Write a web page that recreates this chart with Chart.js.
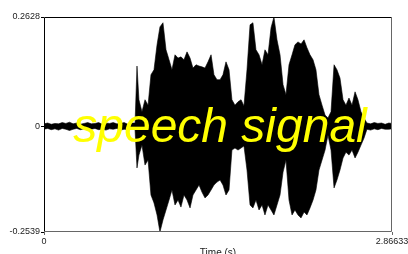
<!DOCTYPE html>
<html lang="en">
<head>
<meta charset="UTF-8">
<title>speech signal</title>
<script src="https://cdn.jsdelivr.net/npm/chart.js"></script>
<style>
  html, body { margin: 0; padding: 0; background: #fff; }
  #wrap { width: 408px; height: 254px; position: relative; }
</style>
</head>
<body>
<div id="wrap"><canvas id="wave"></canvas></div>
<script>
// envelope of the waveform (seconds / amplitude)
const time = [
  0, 0.03, 0.06, 0.09, 0.12, 0.15, 0.18, 0.21, 0.24, 0.27, 0.30, 0.33, 0.36, 0.39, 0.42, 0.45, 0.48, 0.51, 0.54, 0.57, 0.60, 0.63, 0.66, 0.69, 0.72,
  0.750, 0.766, 0.782, 0.807, 0.832, 0.857, 0.881, 0.906, 0.931, 0.955, 0.980, 1.005, 1.030, 1.054, 1.079, 1.104, 1.128, 1.153, 1.178, 1.203,
  1.227, 1.252, 1.277, 1.301, 1.326, 1.351, 1.376, 1.400, 1.425, 1.450, 1.474, 1.499, 1.524, 1.548, 1.573, 1.598, 1.623, 1.647, 1.672, 1.697,
  1.721, 1.746, 1.771, 1.796, 1.820, 1.845, 1.870, 1.894, 1.919, 1.944, 1.969, 1.993, 2.018, 2.043, 2.067, 2.092, 2.117, 2.142, 2.166, 2.191,
  2.216, 2.240, 2.265, 2.290, 2.315, 2.339, 2.364, 2.389, 2.413, 2.438, 2.463, 2.487, 2.512, 2.537, 2.562, 2.586, 2.611, 2.636,
  2.66, 2.69, 2.72, 2.75, 2.78, 2.81, 2.84, 2.86633
];
const upper = [
  0.006, 0.008, 0.005, 0.007, 0.006, 0.009, 0.007, 0.010, 0.006, 0.008, 0.005, 0.007, 0.009, 0.006, 0.007, 0.009, 0.005, 0.008, 0.007, 0.009, 0.006, 0.007, 0.009, 0.005, 0.008,
  0.008, 0.145, 0.064, 0.035, 0.064, 0.051, 0.124, 0.136, 0.196, 0.239, 0.249, 0.184, 0.160, 0.136, 0.172, 0.164, 0.167, 0.160, 0.179, 0.164,
  0.140, 0.148, 0.145, 0.143, 0.140, 0.155, 0.172, 0.124, 0.112, 0.112, 0.124, 0.155, 0.136, 0.064, 0.051, 0.059, 0.064, 0.049, 0.136, 0.244,
  0.249, 0.184, 0.172, 0.148, 0.184, 0.172, 0.237, 0.2628, 0.208, 0.172, 0.100, 0.076, 0.148, 0.172, 0.196, 0.203, 0.198, 0.208, 0.189, 0.172,
  0.160, 0.136, 0.076, 0.051, 0.027, 0.020, 0.035, 0.148, 0.136, 0.116, 0.064, 0.051, 0.068, 0.051, 0.083, 0.064, 0.035, 0.020,
  0.008, 0.006, 0.009, 0.007, 0.008, 0.005, 0.008, 0.007
];
const lower = [
  -0.007, -0.005, -0.008, -0.006, -0.009, -0.005, -0.007, -0.010, -0.007, -0.005, -0.008, -0.006, -0.009, -0.007, -0.005, -0.008, -0.007, -0.009, -0.006, -0.007, -0.005, -0.009, -0.007, -0.008, -0.006,
  -0.008, -0.100, -0.069, -0.045, -0.093, -0.081, -0.165, -0.184, -0.213, -0.2539, -0.225, -0.201, -0.177, -0.153, -0.189, -0.177, -0.194, -0.165, -0.177, -0.196,
  -0.165, -0.153, -0.141, -0.158, -0.172, -0.165, -0.153, -0.141, -0.134, -0.129, -0.141, -0.165, -0.153, -0.057, -0.052, -0.057, -0.052, -0.047, -0.105, -0.189,
  -0.196, -0.177, -0.201, -0.189, -0.213, -0.189, -0.201, -0.213, -0.189, -0.165, -0.110, -0.081, -0.177, -0.213, -0.201, -0.213, -0.220, -0.206, -0.213, -0.196,
  -0.177, -0.153, -0.105, -0.081, -0.057, -0.021, -0.057, -0.148, -0.129, -0.105, -0.076, -0.062, -0.069, -0.057, -0.076, -0.062, -0.045, -0.028,
  -0.007, -0.009, -0.006, -0.008, -0.005, -0.007, -0.007, -0.006
];

const xTicks = [0, 2.86633];
const xTickLabels = ['0', '2.86633'];
const yTicks = [-0.2539, 0, 0.2628];
const yTickLabels = ['-0.2539', '0', '0.2628'];
const overlayText = 'speech signal';

Chart.defaults.font.family = '"Liberation Sans", Arial, sans-serif';
Chart.defaults.font.size = 9;
Chart.defaults.color = '#222';

const frame = {
  id: 'frame',
  afterDatasetsDraw(chart) {
    const { ctx, chartArea: a } = chart;
    ctx.save();
    ctx.lineWidth = 1;
    ctx.strokeStyle = '#000';
    ctx.beginPath();
    ctx.moveTo(a.left + 0.5, a.bottom);
    ctx.lineTo(a.left + 0.5, a.top + 0.5);
    ctx.lineTo(a.right, a.top + 0.5);
    ctx.stroke();
    ctx.strokeStyle = '#666';
    ctx.beginPath();
    ctx.moveTo(a.right - 0.5, a.top);
    ctx.lineTo(a.right - 0.5, a.bottom - 0.5);
    ctx.lineTo(a.left, a.bottom - 0.5);
    ctx.stroke();

    ctx.font = 'italic 48px "Liberation Sans", Arial, sans-serif';
    ctx.fillStyle = '#ffff00';
    ctx.textAlign = 'center';
    ctx.textBaseline = 'alphabetic';
    ctx.fillText(overlayText, 220, 142);
    ctx.restore();
  }
};

const pts = arr => arr.map((v, i) => ({ x: time[i], y: v }));

new Chart(document.getElementById('wave'), {
  type: 'line',
  data: {
    datasets: [
      { data: pts(upper), borderColor: '#000', backgroundColor: '#000', borderWidth: 0.6, pointRadius: 0, fill: false },
      { data: pts(lower), borderColor: '#000', backgroundColor: '#000', borderWidth: 0.6, pointRadius: 0, fill: '-1' }
    ]
  },
  options: {
    responsive: true,
    maintainAspectRatio: false,
    animation: false,
    layout: { padding: { left: 0, top: 17, right: 16, bottom: 0 } },
    plugins: { legend: { display: false }, tooltip: { enabled: false } },
    scales: {
      x: {
        type: 'linear',
        min: 0,
        max: 2.86633,
        border: { display: false },
        grid: { drawOnChartArea: false, drawTicks: true, tickLength: 3, color: '#666' },
        afterBuildTicks: s => { s.ticks = xTicks.map(v => ({ value: v })); },
        ticks: { autoSkip: false, maxRotation: 0, padding: 1, callback: (v, i) => xTickLabels[i] },
        title: { display: true, text: 'Time (s)', font: { size: 10 }, color: '#222', padding: { top: 0, bottom: -5 } },
        afterFit: s => { s.height = 22; s.paddingLeft = 0; s.paddingRight = 0; }
      },
      y: {
        min: -0.2539,
        max: 0.2628,
        border: { display: false },
        grid: { drawOnChartArea: false, drawTicks: true, tickLength: 3, color: '#000' },
        afterBuildTicks: s => { s.ticks = yTicks.map(v => ({ value: v })); },
        ticks: { padding: 1, callback: (v, i) => yTickLabels[i] },
        afterFit: s => { s.width = 44; }
      }
    }
  },
  plugins: [frame]
});
</script>
</body>
</html>
